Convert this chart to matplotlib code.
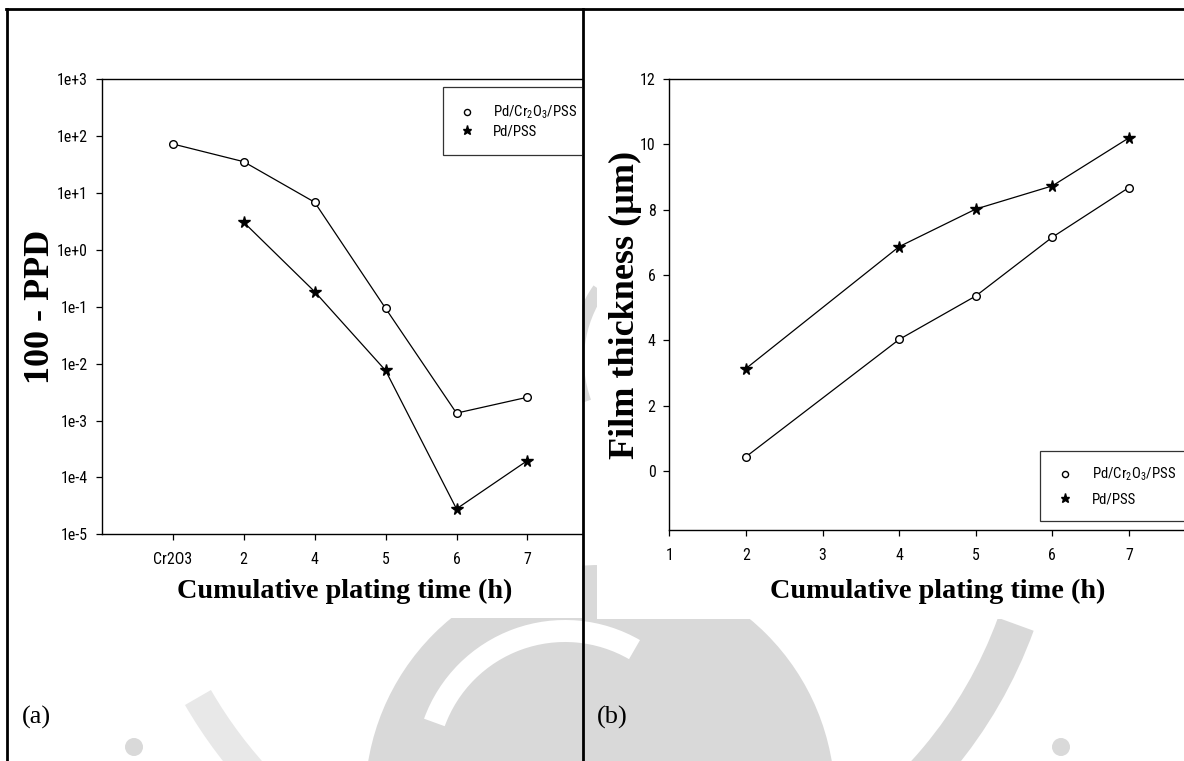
import numpy as np
import matplotlib
matplotlib.use("Agg")
import matplotlib.pyplot as plt
from matplotlib import font_manager as fm
from matplotlib import transforms
from matplotlib.patches import Rectangle, Circle, Wedge
from matplotlib.lines import Line2D

# ---------------- data ----------------
# (a) 100 - PPD versus cumulative plating time (log scale)
a_categories = ["Cr2O3", "2", "4", "5", "6", "7"]
a_cr2o3_pss = [73.0, 35.6, 6.9, 0.094, 1.35e-3, 2.57e-3]
a_pd_pss_categories = ["2", "4", "5", "6", "7"]
a_pd_pss = [3.07, 0.185, 7.6e-3, 2.8e-5, 1.98e-4]
a_yticks = [1e-5, 1e-4, 1e-3, 1e-2, 1e-1, 1e0, 1e1, 1e2, 1e3]
a_yticklabels = ["1e-5", "1e-4", "1e-3", "1e-2", "1e-1", "1e+0", "1e+1", "1e+2", "1e+3"]

# (b) film thickness versus cumulative plating time
b_hours = [2, 4, 5, 6, 7]
b_cr2o3_pss = [0.44, 4.03, 5.36, 7.16, 8.68]
b_pd_pss = [3.14, 6.87, 8.02, 8.73, 10.20]
b_xticks = [1, 2, 3, 4, 5, 6, 7]
b_yticks = [0, 2, 4, 6, 8, 10, 12]

series_labels = ["Pd/Cr$_2$O$_3$/PSS", "Pd/PSS"]

# ---------------- fonts ----------------
_names = {f.name for f in fm.fontManager.ttflist}
SANS = next((c for c in ["Liberation Sans Narrow", "Roboto Condensed",
                         "Open Sans Condensed", "Liberation Sans", "DejaVu Sans"]
             if c in _names), "DejaVu Sans")
SERIF = "Liberation Serif" if "Liberation Serif" in _names else "DejaVu Serif"

plt.rcParams["mathtext.fontset"] = "custom"
plt.rcParams["mathtext.rm"] = SANS
plt.rcParams["mathtext.it"] = SANS
plt.rcParams["mathtext.default"] = "regular"

W, H = 1184, 761
fig = plt.figure(figsize=(W / 100, H / 100), dpi=100)
fig.patch.set_facecolor("white")
renderer = fig.canvas.get_renderer()


def fit_pt(s, family, target_w, max_pt, weight="normal"):
    """Largest size (<= max_pt) at which the string is at most target_w pixels wide."""
    t = fig.text(0, 0, s, family=family, fontsize=max_pt, weight=weight)
    w = t.get_window_extent(renderer).width
    t.remove()
    return min(max_pt, max_pt * target_w / w)


tick_fs = fit_pt("1e+3", SANS, 31, 11.7)
legend_fs = fit_pt(series_labels[0], SANS, 84, 11.7)
label_fs = fit_pt("Cumulative plating time (h)", SERIF, 335, 28, weight="bold")
ylabel_fs = 26

# pixel coordinates with the origin at the top-left corner
pix = transforms.Affine2D().scale(1, -1).translate(0, H)


def fx(px):
    return px / W


def fy(py):
    return 1 - py / H


def prect(x0, y0, x1, y1, **kw):
    return Rectangle((x0, y0), x1 - x0, y1 - y0, transform=pix, **kw)


# ---------------- faint background seal ----------------
seal = "#d9d9d9"
seal_parts = [
    Circle((600, 800), 235, facecolor=seal),
    Wedge((565, 770), 150, 200, 300, width=22, facecolor="white"),
    Wedge((592, 470), 470, 20, 60, width=38, facecolor=seal),
    Wedge((592, 470), 470, 122, 150, width=30, facecolor=seal, alpha=0.6),
    Wedge((700, 360), 130, 160, 215, width=14, facecolor=seal),
    Circle((134, 747), 9, facecolor=seal),
    Circle((1061, 747), 9, facecolor=seal),
]
for i, p in enumerate(seal_parts):
    p.set_transform(pix)
    p.set_edgecolor("none")
    p.set_zorder(-6 + 0.1 * i)
    fig.patches.append(p)

# white backgrounds of the two plot panels
fig.patches.append(prect(8, 10, 582, 618, facecolor="white", edgecolor="none", zorder=-4))
fig.patches.append(prect(597, 10, 1184, 619, facecolor="white", edgecolor="none", zorder=-4))

# ---------------- table frame ----------------
for xs, ys in [((6, 1184), (9, 9)), ((7, 7), (9, 761)), ((582.5, 582.5), (9, 761))]:
    fig.lines.append(Line2D(xs, ys, transform=pix, color="black",
                            linewidth=2.0, zorder=10))

# ---------------- panel (a) ----------------
a_left, a_right, a_top, a_bottom = 101.8, 582.0, 79.3, 534.3
axa = fig.add_axes([fx(a_left), fy(a_bottom), fx(a_right) - fx(a_left),
                    fy(a_top) - fy(a_bottom)])
axa.patch.set_visible(False)
xa = np.arange(1, len(a_categories) + 1)
xa_pd = np.array([a_categories.index(c) + 1 for c in a_pd_pss_categories])
axa.plot(xa, a_cr2o3_pss, color="black", lw=0.9, marker="o", ms=5.5,
         mfc="white", mec="black", mew=1.0, label=series_labels[0])
axa.plot(xa_pd, a_pd_pss, color="black", lw=0.9, marker="*", ms=8.5,
         mfc="black", mec="black", label=series_labels[1])
axa.set_yscale("log")
axa.set_ylim(1e-5, 1e3)
axa.set_xlim(0, (a_right - a_left) / 70.94)
axa.set_yticks(a_yticks)
axa.set_yticklabels(a_yticklabels)
axa.yaxis.set_minor_locator(matplotlib.ticker.NullLocator())
axa.set_xticks(xa)
axa.set_xticklabels(a_categories)
axa.spines["right"].set_visible(False)
axa.set_xlabel("Cumulative plating time (h)", family=SERIF, weight="bold",
               fontsize=label_fs)
axa.xaxis.set_label_coords((344.5 - a_left) / (a_right - a_left),
                           -(579 - a_bottom) / (a_bottom - a_top))
axa.set_ylabel("100 - PPD", family=SERIF, weight="bold", fontsize=ylabel_fs)
axa.yaxis.set_label_coords((57 - a_left) / (a_right - a_left), 0.5)

# ---------------- panel (b) ----------------
b_left, b_right, b_top, b_bottom = 669.3, 1205.6, 79.0, 530.0
axb = fig.add_axes([fx(b_left), fy(b_bottom), fx(b_right) - fx(b_left),
                    fy(b_top) - fy(b_bottom)])
axb.patch.set_visible(False)
axb.plot(b_hours, b_cr2o3_pss, color="black", lw=0.9, marker="o", ms=5.5,
         mfc="white", mec="black", mew=1.0, label=series_labels[0])
axb.plot(b_hours, b_pd_pss, color="black", lw=0.9, marker="*", ms=8.5,
         mfc="black", mec="black", label=series_labels[1])
axb.set_xlim(1, 8)
axb.set_ylim(-1.8, 12)
axb.set_xticks(b_xticks)
axb.set_yticks(b_yticks)
axb.spines["right"].set_visible(False)
axb.set_xlabel("Cumulative plating time (h)", family=SERIF, weight="bold",
               fontsize=label_fs)
axb.xaxis.set_label_coords(0.5, -(579 - b_bottom) / (b_bottom - b_top))
axb.set_ylabel("Film thickness (\u00b5m)", family=SERIF, weight="bold",
               fontsize=ylabel_fs)
axb.yaxis.set_label_coords((642 - b_left) / (b_right - b_left), 0.5)

for ax in (axa, axb):
    for s in ax.spines.values():
        s.set_linewidth(1.0)
    ax.tick_params(direction="out", length=4, width=0.9, pad=6,
                   labelsize=tick_fs)
    ax.tick_params(axis="x", pad=9)
    for lab in ax.get_xticklabels() + ax.get_yticklabels():
        lab.set_family(SANS)


def styled_legend(ax, anchor_px, borderpad, handlelength, handletextpad, labelspacing):
    # paddings are given in pixels and converted to font-size units
    em = legend_fs * 100 / 72
    leg = ax.legend(loc="upper left", bbox_to_anchor=(fx(anchor_px[0]), fy(anchor_px[1])),
                    bbox_transform=fig.transFigure, frameon=True, fancybox=False,
                    edgecolor="black", prop={"family": SANS, "size": legend_fs},
                    handlelength=handlelength / em, handletextpad=handletextpad / em,
                    labelspacing=labelspacing / em, borderpad=borderpad / em,
                    borderaxespad=0, markerscale=0.8)
    leg.get_frame().set_linewidth(0.9)
    for ln in leg.get_lines():
        ln.set_linestyle("none")
    return leg


lega = styled_legend(axa, (443.3, 86.7), 17, 13, 20, 3)
lega.get_frame().set_clip_box(axa.bbox)
lega.get_frame().set_clip_on(True)
for t in lega.get_texts():
    t.set_clip_box(axa.bbox)
    t.set_clip_on(True)

legb = styled_legend(axb, (1039.5, 450.7), 15, 21, 16, 9)

# panel captions
fig.text(fx(21.7), fy(717.5), "(a)", family=SERIF, fontsize=19, va="center", ha="left")
fig.text(fx(597), fy(717.5), "(b)", family=SERIF, fontsize=19, va="center", ha="left")

fig.savefig("out.png", dpi=100)
